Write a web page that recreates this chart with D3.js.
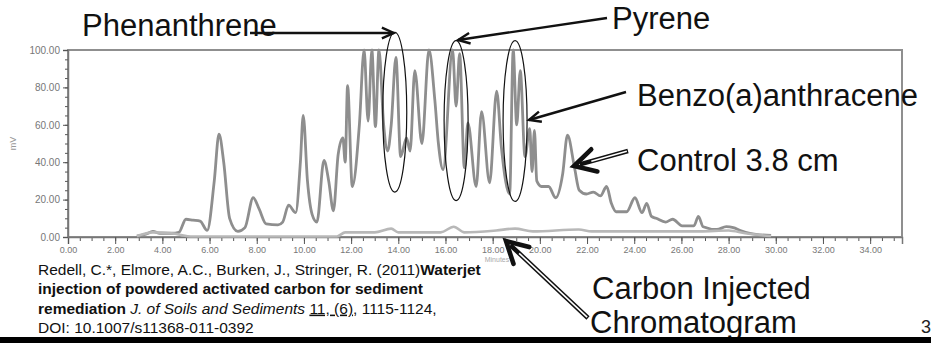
<!DOCTYPE html>
<html>
<head>
<meta charset="utf-8">
<script src="https://cdn.jsdelivr.net/npm/d3@7"></script>
<style>
  html, body { margin: 0; padding: 0; background: #fff; }
  svg { display: block; font-family: "Liberation Sans", Arial, sans-serif; }
</style>
</head>
<body>
<div id="chart"></div>
<script>
// retention time (min) / relative abundance
const controlSeries = [
  [2.92, 0.5], [3.3, 1.5], [3.6, 3], [3.9, 2], [4.4, 2], [4.7, 2.5], [5.0, 9.5], [5.3, 9],
  [5.6, 8.5], [5.9, 3.5], [6.2, 30], [6.4, 55], [6.6, 40], [6.85, 10], [7.2, 3], [7.5, 5],
  [7.85, 21], [8.1, 15], [8.4, 7], [8.9, 6.5], [9.1, 8], [9.35, 17], [9.65, 13], [9.85, 40],
  [9.97, 65], [10.15, 30], [10.35, 12], [10.55, 8], [10.85, 41], [11.05, 30], [11.25, 14],
  [11.45, 44], [11.65, 53], [11.75, 40], [11.85, 81], [12.05, 27], [12.35, 60], [12.55, 100],
  [12.72, 62], [12.88, 100], [13.03, 59], [13.18, 100], [13.38, 60], [13.55, 46], [13.7, 60],
  [13.9, 96], [14.1, 43], [14.35, 53], [14.5, 46], [14.7, 89], [15.0, 50], [15.3, 100],
  [15.55, 73], [15.7, 50], [15.9, 36], [16.3, 100], [16.45, 70], [16.6, 98], [16.8, 37],
  [16.95, 61], [17.3, 27], [17.53, 67], [17.87, 29], [18.17, 78], [18.37, 48], [18.72, 23],
  [18.87, 100], [19.02, 60], [19.17, 89], [19.37, 43], [19.57, 58], [19.67, 35], [19.77, 57],
  [19.87, 30], [20.07, 27], [20.37, 27], [20.67, 21], [20.97, 34], [21.17, 54.5], [21.47, 37],
  [21.67, 25], [21.97, 23], [22.27, 24], [22.57, 22], [22.83, 27], [23.03, 18], [23.23, 13.5],
  [23.68, 13.5], [24.03, 21], [24.33, 13], [24.53, 18], [24.73, 11], [24.93, 10], [25.33, 8],
  [25.63, 9.5], [26.03, 6], [26.53, 6], [26.72, 11], [26.92, 5.5], [27.5, 4], [27.9, 5.5],
  [28.2, 5], [28.5, 3.5], [28.9, 2], [29.8, 0.8]
];

const carbonSeries = [
  [2.92, 0.5], [3.6, 2.5], [4.4, 2], [4.8, 1], [5.2, 0.3], [11.4, 0.3], [11.75, 2.5],
  [13.0, 2.5], [13.7, 4.5], [14.0, 2.5], [15.8, 2.5], [16.35, 5.5], [16.8, 2.5], [18.15, 3.5],
  [18.95, 4.5], [19.7, 3], [21.65, 4], [22.2, 3], [25.0, 3], [26.8, 3], [28.0, 3.5],
  [28.7, 2], [29.8, 0.5]
];

const xTickValues = [0, 2, 4, 6, 8, 10, 12, 14, 16, 18, 20, 22, 24, 26, 28, 30, 32, 34];
const yTickValues = [0, 20, 40, 60, 80, 100];

// peaks that are circled: centre time, low / high abundance of the ellipse
const circledPeaks = [
  { name: 'Phenanthrene', t: 13.85, lo: 24, hi: 109.5 },
  { name: 'Pyrene', t: 16.45, lo: 19.5, hi: 105 },
  { name: 'Benzo(a)anthracene', t: 18.95, lo: 19, hi: 105 }
];

const citationLines = [
  [{ t: 'Redell, C.*, Elmore, A.C., Burken, J., Stringer, R. (2011)' }, { t: 'Waterjet', b: true }],
  [{ t: 'injection of powdered activated carbon for sediment', b: true }],
  [{ t: 'remediation', b: true }, { t: ' J. of Soils and Sediments', i: true }, { t: ' ' },
   { t: '11, (6)', u: true }, { t: ', 1115-1124,' }],
  [{ t: 'DOI: 10.1007/s11368-011-0392' }]
];

const width = 931, height = 343;

const svg = d3.select('#chart').append('svg')
    .attr('width', width)
    .attr('height', height);

const x = d3.scaleLinear().domain([0, 35.35]).range([68, 902]);
const y = d3.scaleLinear().domain([0, 100]).range([237, 50]);
const fmt = d3.format('.2f');

// frame
svg.append('rect')
    .attr('x', x(0)).attr('y', y(100))
    .attr('width', x(35.35) - x(0)).attr('height', y(0) - y(100))
    .attr('fill', 'none')
    .attr('stroke', '#8f8f8f')
    .attr('stroke-width', 2);

// minor ticks first, then labelled ones
const xMinor = d3.range(0, 35.01, 0.5);
const yMinor = d3.range(0, 100.01, 5);

svg.append('g')
    .attr('transform', `translate(0,${y(0)})`)
    .call(d3.axisBottom(x).tickValues(xMinor).tickSize(4).tickFormat(''))
    .call(g => g.selectAll('line').attr('stroke', '#555'))
    .call(g => g.select('.domain').remove());

svg.append('g')
    .attr('class', 'x-axis')
    .attr('transform', `translate(0,${y(0)})`)
    .call(d3.axisBottom(x).tickValues(xTickValues).tickSize(7).tickPadding(3).tickFormat(fmt))
    .call(g => g.select('.domain').attr('stroke', '#777').attr('stroke-width', 1.5))
    .call(g => g.selectAll('line').attr('stroke', '#555'))
    .call(g => g.selectAll('text').attr('fill', '#777').style('font-size', '9px'));

svg.append('g')
    .attr('transform', `translate(${x(0)},0)`)
    .call(d3.axisLeft(y).tickValues(yMinor).tickSize(3).tickFormat(''))
    .call(g => g.selectAll('line').attr('stroke', '#555'))
    .call(g => g.select('.domain').remove());

svg.append('g')
    .attr('class', 'y-axis')
    .attr('transform', `translate(${x(0)},0)`)
    .call(d3.axisLeft(y).tickValues(yTickValues).tickSize(5).tickPadding(3).tickFormat(fmt))
    .call(g => g.select('.domain').attr('stroke', '#777').attr('stroke-width', 1.5))
    .call(g => g.selectAll('line').attr('stroke', '#555'))
    .call(g => g.selectAll('text').attr('fill', '#777').style('font-size', '10px'));

// tiny axis titles
svg.append('text')
    .attr('transform', `translate(16,${y(50)}) rotate(-90)`)
    .attr('text-anchor', 'middle')
    .attr('fill', '#999')
    .style('font-size', '9px')
    .text('mV');

svg.append('text')
    .attr('x', 497).attr('y', 262)
    .attr('text-anchor', 'middle')
    .attr('fill', '#aaa')
    .style('font-size', '7px')
    .text('Minutes');

// chromatograms
const line = d3.line()
    .x(d => x(d[0]))
    .y(d => y(d[1]))
    .curve(d3.curveMonotoneX);

svg.append('path')
    .datum(controlSeries)
    .attr('d', line)
    .attr('fill', 'none')
    .attr('stroke', '#8e8e8e')
    .attr('stroke-width', 2.8)
    .attr('stroke-linejoin', 'round');

svg.append('path')
    .datum(carbonSeries)
    .attr('d', line)
    .attr('fill', 'none')
    .attr('stroke', '#b8b8b8')
    .attr('stroke-width', 2.6)
    .attr('stroke-linejoin', 'round');

// circled peaks
svg.selectAll('ellipse.peak')
    .data(circledPeaks)
  .enter()
  .append('ellipse')
    .attr('class', 'peak')
    .attr('cx', d => x(d.t))
    .attr('cy', d => (y(d.lo) + y(d.hi)) / 2)
    .attr('rx', 12)
    .attr('ry', d => (y(d.lo) - y(d.hi)) / 2)
    .attr('fill', 'none')
    .attr('stroke', '#111')
    .attr('stroke-width', 1.2);

// annotation arrows
function headPoints(x1, y1, x2, y2, len, spread) {
    const a = Math.atan2(y1 - y2, x1 - x2);
    return [
        [x2 + len * Math.cos(a + spread), y2 + len * Math.sin(a + spread)],
        [x2, y2],
        [x2 + len * Math.cos(a - spread), y2 + len * Math.sin(a - spread)]
    ];
}

function lineArrow(x1, y1, x2, y2) {
    const g = svg.append('g');
    g.append('line')
        .attr('x1', x1).attr('y1', y1).attr('x2', x2).attr('y2', y2)
        .attr('stroke', '#111').attr('stroke-width', 2.4);
    g.append('polyline')
        .attr('points', headPoints(x1, y1, x2, y2, 13, 0.42).join(' '))
        .attr('fill', 'none').attr('stroke', '#111').attr('stroke-width', 2.4)
        .attr('stroke-linejoin', 'miter');
}

function doubleArrow(x1, y1, x2, y2) {
    const g = svg.append('g');
    const a = Math.atan2(y1 - y2, x1 - x2);
    const sx = x2 + 6 * Math.cos(a), sy = y2 + 6 * Math.sin(a);
    g.append('line')
        .attr('x1', x1).attr('y1', y1).attr('x2', sx).attr('y2', sy)
        .attr('stroke', '#111').attr('stroke-width', 4.6);
    g.append('line')
        .attr('x1', x1 - 1.2 * Math.cos(a)).attr('y1', y1 - 1.2 * Math.sin(a))
        .attr('x2', sx + 12 * Math.cos(a)).attr('y2', sy + 12 * Math.sin(a))
        .attr('stroke', '#fff').attr('stroke-width', 1.6);
    g.append('polyline')
        .attr('points', headPoints(x1, y1, x2, y2, 24, 0.5).join(' '))
        .attr('fill', 'none').attr('stroke', '#111').attr('stroke-width', 4.6)
        .attr('stroke-linecap', 'round').attr('stroke-linejoin', 'miter');
}

lineArrow(250, 33, x(circledPeaks[0].t) - 1, 33);
lineArrow(607, 18, x(circledPeaks[1].t) + 2, 40);
lineArrow(626, 92, 529, 120);
doubleArrow(628, 151, 574, 166);
doubleArrow(588, 318, 506, 241);

// big labels
const labels = [
  { text: 'Phenanthrene', x: 82, y: 36 },
  { text: 'Pyrene', x: 612, y: 29 },
  { text: 'Benzo(a)anthracene', x: 637, y: 106 },
  { text: 'Control 3.8 cm', x: 637, y: 171 },
  { text: 'Carbon Injected', x: 592, y: 299 },
  { text: 'Chromatogram', x: 590, y: 333 }
];

svg.selectAll('text.big')
    .data(labels)
  .enter()
  .append('text')
    .attr('class', 'big')
    .attr('x', d => d.x)
    .attr('y', d => d.y)
    .attr('fill', '#111')
    .style('font-size', '31px')
    .text(d => d.text);

// citation
const cite = svg.append('text')
    .attr('fill', '#111')
    .style('font-size', '15.5px');

citationLines.forEach((parts, i) => {
    parts.forEach((p, j) => {
        const ts = cite.append('tspan').text(p.t);
        if (j === 0) ts.attr('x', 38).attr('y', 275 + i * 19.3);
        if (p.b) ts.attr('font-weight', 'bold');
        if (p.i) ts.attr('font-style', 'italic');
        if (p.u) ts.attr('text-decoration', 'underline');
    });
});

// page number and bottom bar
svg.append('text')
    .attr('x', 921).attr('y', 333)
    .attr('fill', '#222')
    .style('font-size', '18px')
    .text('3');

svg.append('rect')
    .attr('x', 0).attr('y', 337)
    .attr('width', width).attr('height', 6)
    .attr('fill', '#000');
</script>
</body>
</html>
